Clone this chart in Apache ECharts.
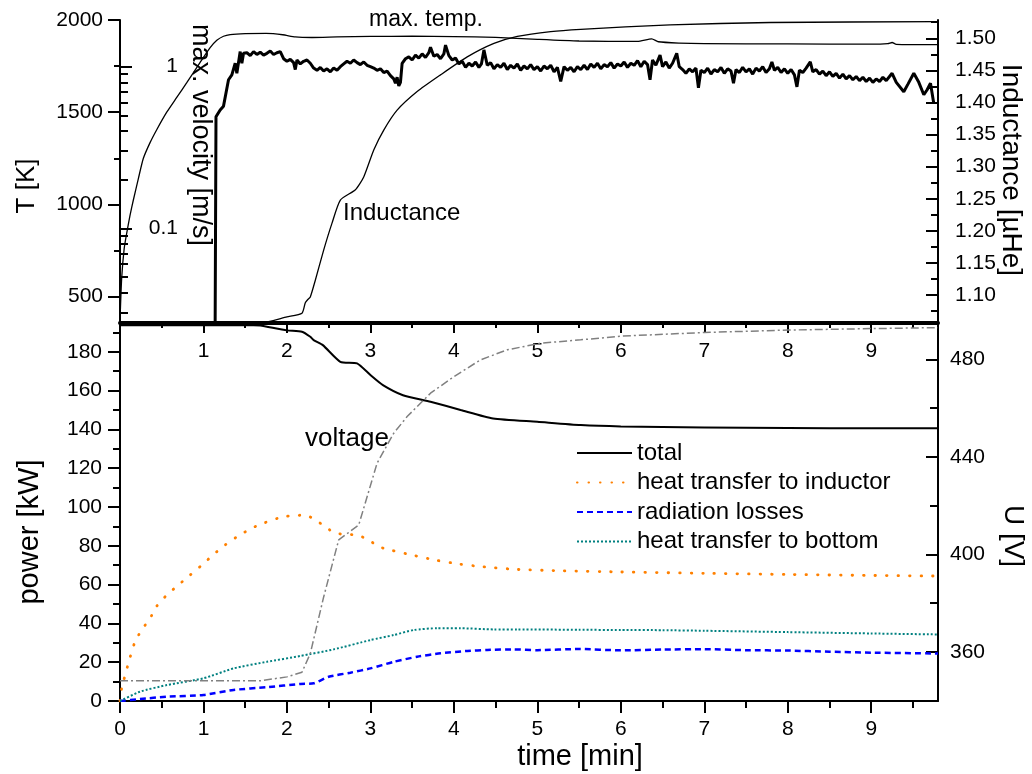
<!DOCTYPE html>
<html><head><meta charset="utf-8">
<script src="https://cdn.jsdelivr.net/npm/echarts@6/dist/echarts.min.js"></script>
<style>html,body{margin:0;padding:0;background:#fff}#c{width:1032px;height:774px}</style>
</head><body><div id="c"></div>
<script>
// ---------- data (time in min) ----------
const maxTemp = [[0,370],[0.02,600],[0.05,760],[0.08,843],[0.12,940],[0.16,1024],[0.22,1140],[0.28,1250],[0.36,1335],[0.44,1405],[0.56,1500],[0.68,1580],[0.8,1660],[0.96,1770],[1.08,1850],[1.16,1890],[1.24,1912],[1.32,1921],[1.5,1926],[1.75,1927],[1.95,1920],[2.1,1908],[2.3,1905],[2.6,1908],[3.0,1911],[3.5,1912],[4.0,1910],[4.5,1906],[5.0,1895],[5.5,1886],[6.2,1884],[6.37,1898],[6.45,1882],[6.7,1875],[7.0,1872],[8.0,1870],[9.0,1869],[9.2,1872],[9.25,1878],[9.3,1868],[9.8,1866]];
const maxVelocity = [[1.14,0.026],[1.15,0.49],[1.2,0.54],[1.24,0.57],[1.3,0.83],[1.34,0.89],[1.38,1.05],[1.40,0.91],[1.44,1.24],[1.46,1.05],[1.48,1.21],
[1.52,1.22],[1.56,1.17],[1.60,1.24],[1.64,1.19],[1.68,1.23],[1.72,1.18],[1.76,1.21],[1.80,1.25],[1.84,1.19],[1.88,1.22],[1.92,1.24],
[1.96,1.12],[2.0,1.08],[2.04,1.11],[2.08,1.06],[2.10,0.96],[2.12,1.10],[2.16,1.04],[2.2,1.08],[2.24,1.10],[2.28,1.05],
[2.32,0.98],[2.36,0.95],[2.40,0.99],[2.44,0.94],[2.48,0.97],[2.52,0.93],[2.56,0.98],[2.60,0.95],[2.64,1.0],
[2.68,1.04],[2.72,1.08],[2.76,1.05],[2.80,1.10],[2.84,1.06],[2.88,1.03],[2.92,1.07],[2.96,1.02],[3.0,1.0],
[3.04,0.98],[3.08,0.95],[3.12,0.97],[3.16,0.92],[3.20,0.94],[3.24,0.88],[3.28,0.84],[3.30,0.79],[3.32,0.86],[3.34,0.76],[3.36,0.80],[3.38,1.05],
[3.42,1.12],[3.46,1.15],[3.50,1.10],[3.54,1.18],[3.58,1.13],[3.62,1.20],[3.66,1.14],[3.70,1.22],[3.72,1.32],[3.76,1.16],[3.80,1.19],[3.84,1.12],[3.88,1.20],[3.90,1.36],[3.94,1.17],[3.98,1.10],
[4.02,1.13],[4.06,1.04],[4.10,1.08],[4.14,0.99],[4.18,1.05],[4.22,1.01],[4.26,1.07],[4.30,0.99],[4.33,1.04],[4.36,1.27],[4.40,1.02],[4.44,1.06],[4.48,0.97],[4.52,1.03],[4.56,0.99],[4.60,1.05],[4.64,0.96],[4.68,1.02],[4.72,0.98],[4.76,1.04],[4.80,0.95],[4.84,1.01],[4.88,0.97],[4.92,1.03],[4.96,0.96],[5.0,1.0],[5.04,0.94],[5.08,1.01],[5.12,0.97],[5.16,1.02],[5.20,0.93],[5.24,0.99],[5.28,0.81],[5.32,1.0],[5.36,0.95],[5.40,0.99],[5.44,0.93],[5.48,1.0],[5.52,0.96],
[5.56,1.02],[5.60,0.96],[5.64,1.04],[5.68,0.99],[5.72,1.05],[5.76,0.97],[5.80,1.03],[5.84,1.0],[5.88,1.06],[5.92,0.98],[5.96,1.04],[6.0,1.01],[6.04,1.07],[6.08,0.99],[6.12,1.05],[6.16,1.02],[6.20,1.09],[6.24,1.0],[6.28,1.08],[6.32,1.03],[6.35,0.83],[6.38,1.10],[6.42,1.02],[6.47,1.18],[6.50,1.0],[6.54,1.07],[6.58,0.98],[6.62,1.05],[6.67,1.21],[6.70,1.0],
[6.74,0.96],[6.78,0.91],[6.82,0.97],[6.86,0.93],[6.90,0.98],[6.93,0.74],[6.96,0.95],[7.0,0.92],[7.04,0.98],[7.08,0.90],[7.12,0.96],[7.16,0.93],[7.20,0.99],[7.24,0.91],[7.28,0.97],[7.32,0.94],[7.35,0.79],[7.38,0.96],[7.42,0.92],[7.46,0.99],[7.50,0.93],[7.54,0.97],[7.58,0.90],[7.62,0.98],[7.66,0.94],[7.70,1.0],[7.74,0.92],[7.78,0.97],[7.81,1.07],[7.84,0.95],[7.88,0.99],[7.92,0.92],[7.96,0.97],[8.0,0.91],[8.04,0.96],[8.08,0.89],[8.11,0.75],[8.14,0.95],[8.18,0.92],[8.22,0.98],[8.27,1.07],[8.30,0.93],
[8.34,0.96],[8.38,0.90],[8.42,0.94],[8.46,0.88],[8.50,0.93],[8.54,0.87],[8.58,0.91],[8.62,0.85],[8.66,0.90],[8.70,0.84],[8.74,0.88],[8.78,0.83],[8.82,0.87],[8.86,0.82],[8.90,0.86],[8.94,0.81],[8.98,0.85],[9.02,0.80],[9.06,0.84],[9.10,0.81],[9.14,0.86],[9.18,0.82],[9.25,0.91],[9.30,0.80],[9.39,0.70],[9.44,0.78],[9.51,0.91],[9.57,0.80],[9.63,0.67],[9.67,0.72],[9.71,0.79],[9.75,0.59]];
const inductance = [[0,1.0565],[1.68,1.0565],[2.0,1.066],[2.18,1.0715],[2.22,1.088],[2.25,1.093],[2.28,1.097],[2.34,1.123],[2.44,1.170],[2.54,1.212],[2.64,1.248],[2.82,1.264],[2.92,1.284],[3.04,1.326],[3.16,1.357],[3.32,1.388],[3.56,1.417],[3.84,1.443],[4.16,1.471],[4.48,1.492],[4.76,1.503],[5.16,1.5105],[5.52,1.514],[6.59,1.521],[7.79,1.5246],[9.79,1.526]];
const powerTotal = [[0,193.7],[1.6,193.7],[1.68,193.5],[2.0,191],[2.18,190.3],[2.28,187.7],[2.32,186],[2.43,183.4],[2.64,174.8],[2.84,174],[3.0,168],[3.15,162.8],[3.39,157.6],[3.72,154.2],[4.08,150],[4.47,145.6],[5.0,143.9],[5.52,142.2],[6.0,141.5],[7.0,141],[8.0,140.7],[9.0,140.5],[9.8,140.5]];
const heatInductor = [[0,0],[0.02,6.5],[0.1,19.4],[0.18,30.6],[0.26,36.6],[0.36,42.6],[0.44,48.9],[0.56,54.6],[0.7,59.8],[0.84,64.9],[0.98,70],[1.12,75.5],[1.26,80.4],[1.4,84.6],[1.54,88.1],[1.66,90.7],[1.96,95],[2.22,95.8],[2.34,93.3],[2.46,89.8],[2.58,86.4],[2.84,85.5],[2.98,83],[3.1,79.5],[3.24,77.8],[3.5,75.2],[3.78,72.6],[4.06,70.6],[4.34,69.2],[4.76,67.8],[5.3,67.1],[6.0,66.5],[7.0,65.8],[8.0,65.2],[9.0,64.7],[9.8,64.4]];
const radiation = [[0,0],[0.24,1],[0.56,2.2],[1.0,3.1],[1.36,5.7],[1.76,7.1],[2.16,8.8],[2.32,9.1],[2.5,12.5],[2.76,14.6],[3.0,16.8],[3.28,20.2],[3.56,22.8],[3.84,24.6],[4.16,25.8],[4.4,26.3],[4.72,26.6],[5.0,26.2],[5.5,26.8],[6.0,26.1],[6.5,26.5],[7.0,26.7],[7.5,26.2],[8.0,26.0],[8.5,25.4],[9.0,24.9],[9.8,24.5]];
const heatBottom = [[0,0],[0.24,4.8],[0.56,8.2],[1.0,11.7],[1.36,16.8],[1.76,20.2],[2.16,23.2],[2.56,26.6],[3.0,31.4],[3.28,34],[3.52,36.6],[3.8,37.5],[4.08,37.5],[4.48,36.9],[4.76,36.9],[5.5,36.7],[6.0,36.6],[6.5,36.5],[7.0,36.2],[8.0,35.5],[9.0,34.8],[9.8,34.3]];
const voltage = [[0,348.1],[1.68,348.1],[2.0,349.7],[2.18,351.6],[2.28,359.3],[2.44,382.5],[2.62,405.9],[2.86,412],[3.08,437.4],[3.28,449.7],[3.44,456.5],[3.72,466.1],[4.0,472.9],[4.32,479.8],[4.64,483.9],[5.04,486.6],[5.52,488],[6.0,489.5],[7.0,491],[8.0,492],[9.0,492.6],[9.8,493]];

// tick label values
const timeTicksTop = [1,2,3,4,5,6,7,8,9];
const timeTicks = [0,1,2,3,4,5,6,7,8,9];
const timeMinor = [0.5,1.5,2.5,3.5,4.5,5.5,6.5,7.5,8.5,9.5];
const tTicks = [500,1000,1500,2000];
const tMinor = [750,1250,1750];
const velTicks = [0.1,1];
const velMinor = [0.03,0.04,0.05,0.06,0.07,0.08,0.09,0.2,0.3,0.4,0.5,0.6,0.7,0.8,0.9];
const indTicks = [1.10,1.15,1.20,1.25,1.30,1.35,1.40,1.45,1.50];
const indMinor = [1.075,1.125,1.175,1.225,1.275,1.325,1.375,1.425,1.475,1.525];
const pTicks = [0,20,40,60,80,100,120,140,160,180];
const pMinor = [10,30,50,70,90,110,130,150,170,190];
const uTicks = [360,400,440,480];
const uMinor = [380,420,460];

const FONT = '"Liberation Sans", Arial, sans-serif';

function ax(o) {
  return {
    type: o.type || 'value',
    gridIndex: o.grid,
    position: o.pos,
    min: o.min, max: o.max,
    logBase: 10,
    splitLine: {show: false},
    axisLine: {show: o.line !== false, onZero: false, lineStyle: {color: '#000', width: o.lw || 2}},
    axisTick: {show: !!o.ticks, inside: !!o.inside, length: o.len || 12, customValues: o.ticks,
               lineStyle: {color: '#000', width: 2}},
    minorTick: {show: false},
    axisLabel: o.labels ? {show: true, customValues: o.labels, margin: o.margin, inside: !!o.labelInside,
               align: o.align, formatter: o.fmt || (v => String(v)), color: '#000', fontSize: 21, fontFamily: FONT}
             : {show: false},
    silent: true
  };
}

const xAxis = [
  ax({grid:0, pos:'bottom', min:0, max:9.8, lw:4, ticks:timeTicks, len:10, labels:timeTicksTop, margin:18}),
  ax({grid:0, pos:'bottom', min:0, max:9.8, line:false, ticks:timeMinor, len:5}),
  ax({grid:1, pos:'bottom', min:0, max:9.8, ticks:timeTicks, len:12, labels:timeTicks, margin:18}),
  ax({grid:1, pos:'bottom', min:0, max:9.8, line:false, ticks:timeMinor, len:7})
];
const yAxis = [
  ax({grid:0, pos:'left', min:357, max:2000, ticks:tTicks, len:12, labels:tTicks, margin:17}),
  ax({grid:0, pos:'left', min:357, max:2000, line:false, ticks:tMinor, len:6}),
  ax({grid:0, pos:'left', type:'log', min:0.02594, max:1.945, line:false, ticks:velTicks, inside:true, len:12,
      labels:velTicks, labelInside:true, align:'right', margin:58}),
  ax({grid:0, pos:'left', type:'log', min:0.02594, max:1.945, line:false, ticks:velMinor, inside:true, len:8}),
  ax({grid:0, pos:'right', min:1.0564, max:1.5285, ticks:indTicks, inside:true, len:12, labels:indTicks, margin:17, fmt: v => v.toFixed(2)}),
  ax({grid:0, pos:'right', min:1.0564, max:1.5285, line:false, ticks:indMinor, inside:true, len:7}),
  ax({grid:1, pos:'left', min:0, max:194.8, ticks:pTicks, len:12, labels:pTicks, margin:18}),
  ax({grid:1, pos:'left', min:0, max:194.8, line:false, ticks:pMinor, len:7}),
  ax({grid:1, pos:'right', min:339.8, max:494.9, ticks:uTicks, inside:true, len:12, labels:uTicks, margin:12}),
  ax({grid:1, pos:'right', min:339.8, max:494.9, line:false, ticks:uMinor, inside:true, len:8})
];

function line(name, xi, yi, data, ls, smooth) {
  return {type:'line', name, xAxisIndex:xi, yAxisIndex:yi, data, symbol:'none', showSymbol:false,
          smooth: smooth || false,
          itemStyle: {color: ls.color},
          silent:true, animation:false, clip:true, lineStyle: ls, z: 3};
}

function txt(text, x, y, size, rot, align) {
  return {type:'text', x, y, rotation: rot || 0, z: 10, silent: true,
    style: {text, fill:'#000', fontSize:size, fontFamily:FONT,
            align: align || 'center', textAlign: align || 'center',
            verticalAlign:'middle', textVerticalAlign:'middle'}};
}

const chart = echarts.init(document.getElementById('c'), null, {renderer:'canvas'});
chart.setOption({
  animation: false,
  backgroundColor: '#fff',
  grid: [
    {left:120, right:94, top:20, height:303},
    {left:120, right:94, top:323, height:378}
  ],
  xAxis, yAxis,
  legend: {
    orient:'vertical', left:571, top:436, itemWidth:55, itemHeight:14, itemGap:5.5,
    selectedMode:false,
    itemStyle: {opacity: 0},
    textStyle:{fontSize:24, fontFamily:FONT, color:'#000', lineHeight:24},
    data:['total','heat transfer to inductor','radiation losses','heat transfer to bottom']
  },
  series: [
    line('max. temp.', 0, 0, maxTemp, {color:'#000', width:1.3}, 0.2),
    line('max. velocity', 0, 2, maxVelocity, {color:'#000', width:3}),
    line('Inductance', 0, 4, inductance, {color:'#000', width:1.3}, 0.2),
    line('total', 2, 6, powerTotal, {color:'#000', width:2}, 0.2),
    line('heat transfer to inductor', 2, 6, heatInductor, {color:'#FF8000', width:2.8, type:[0.5,11], cap:'round'}, 0.2),
    line('radiation losses', 2, 6, radiation, {color:'#0000FF', width:2.5, type:[6,4]}, 0.2),
    line('heat transfer to bottom', 2, 6, heatBottom, {color:'#008080', width:2, type:[2,2]}, 0.2),
    line('voltage', 2, 8, voltage, {color:'#808080', width:1.5, type:[8,3,2,3]})
  ],
  graphic: [
    txt('max. temp.', 426, 20, 23),
    txt('Inductance', 343, 213, 24, 0, 'left'),
    txt('voltage', 305, 439, 26, 0, 'left'),
    txt('T [K]', 27, 186, 26, Math.PI/2),
    txt('max. velocity [m/s]', 200, 135, 27, -Math.PI/2),
    txt('Inductance [µHe]', 1011, 170, 28, -Math.PI/2),
    txt('power [kW]', 30, 532, 29, Math.PI/2),
    txt('U [V]', 1013, 536, 28, -Math.PI/2),
    txt('time [min]', 580, 757, 29)
  ]
});
</script></body></html>
